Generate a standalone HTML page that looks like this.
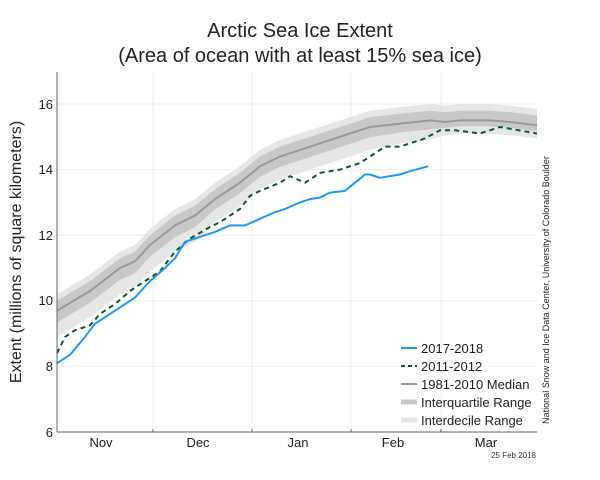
<!DOCTYPE html>
<html><head><meta charset="utf-8"><style>
body{margin:0;background:#fff}
svg{display:block;font-family:"Liberation Sans",sans-serif}
</style></head><body>
<svg id="s" width="600" height="480" viewBox="0 0 600 480">
<rect width="600" height="480" fill="#fff"/>
<text x="300" y="37" font-size="20" text-anchor="middle" fill="#222">Arctic Sea Ice Extent</text>
<text x="300" y="62" font-size="20" text-anchor="middle" fill="#222">(Area of ocean with at least 15% sea ice)</text>
<g stroke="#eeeeee" stroke-width="1">
<line x1="57" x2="537" y1="366.4" y2="366.4"/><line x1="57" x2="537" y1="300.8" y2="300.8"/>
<line x1="57" x2="537" y1="235.2" y2="235.2"/><line x1="57" x2="537" y1="169.6" y2="169.6"/>
<line x1="57" x2="537" y1="104" y2="104"/>
<line x1="153" x2="153" y1="72" y2="432"/><line x1="252" x2="252" y1="72" y2="432"/>
<line x1="351" x2="351" y1="72" y2="432"/><line x1="441" x2="441" y1="72" y2="432"/>
</g>
<g id="g"></g>
<line x1="57" x2="57" y1="72" y2="432" stroke="#666"/>
<line x1="57" x2="537" y1="432" y2="432" stroke="#666"/>
<g stroke="#666"><line x1="153" x2="153" y1="429" y2="432"/><line x1="252" x2="252" y1="429" y2="432"/><line x1="351" x2="351" y1="429" y2="432"/><line x1="441" x2="441" y1="429" y2="432"/></g>
<g font-size="13" fill="#222" text-anchor="end">
<text x="53" y="437">6</text><text x="53" y="371">8</text><text x="53" y="305">10</text>
<text x="53" y="240">12</text><text x="53" y="174">14</text><text x="53" y="109">16</text>
</g>
<g font-size="13" fill="#222" text-anchor="middle">
<text x="101" y="447">Nov</text><text x="198" y="447">Dec</text><text x="298" y="447">Jan</text>
<text x="393" y="447">Feb</text><text x="486" y="447">Mar</text>
</g>
<text transform="translate(21,252) rotate(-90)" font-size="16" text-anchor="middle" fill="#222">Extent (millions of square kilometers)</text>
<text transform="translate(549,290) rotate(-90)" font-size="9" text-anchor="middle" fill="#222">National Snow and Ice Data Center, University of Colorado Boulder</text>
<text x="536" y="458" font-size="8" text-anchor="end" fill="#333">25 Feb 2018</text>
<g font-size="13" fill="#222">
<line x1="401" x2="417" y1="348" y2="348" stroke="#1e9bef" stroke-width="2"/><text x="421" y="353">2017-2018</text>
<line x1="401" x2="417" y1="366" y2="366" stroke="#0b5a2a" stroke-width="2" stroke-dasharray="4,3"/><text x="421" y="371">2011-2012</text>
<line x1="401" x2="417" y1="384" y2="384" stroke="#999" stroke-width="2"/><text x="421" y="389">1981-2010 Median</text>
<line x1="401" x2="417" y1="402" y2="402" stroke="#c8c8c8" stroke-width="5"/><text x="421" y="407">Interquartile Range</text>
<line x1="401" x2="417" y1="420" y2="420" stroke="#e6e6e6" stroke-width="5"/><text x="421" y="425">Interdecile Range</text>
</g>
</svg>
<script>
function Y(v){return 432-(v-6)*32.8;}
var med=[[57,9.7],[90,10.3],[120,11.0],[135,11.2],[150,11.7],[175,12.3],[195,12.6],[215,13.1],[240,13.6],[260,14.1],[280,14.4],[300,14.6],[330,14.9],[350,15.1],[370,15.3],[400,15.4],[430,15.5],[445,15.45],[460,15.5],[490,15.5],[510,15.45],[537,15.35]];
var blue=[[57,8.1],[70,8.35],[85,8.9],[95,9.3],[105,9.5],[120,9.8],[135,10.1],[150,10.6],[165,11.0],[175,11.3],[185,11.8],[195,11.9],[215,12.1],[230,12.3],[245,12.3],[260,12.5],[275,12.7],[285,12.8],[300,13.0],[310,13.1],[320,13.15],[330,13.3],[345,13.35],[355,13.6],[365,13.85],[370,13.85],[380,13.75],[400,13.85],[410,13.95],[428,14.1]];
var grn=[[57,8.4],[65,8.9],[75,9.1],[90,9.25],[100,9.6],[115,9.9],[130,10.3],[145,10.6],[160,10.9],[175,11.5],[190,11.9],[210,12.25],[220,12.4],[240,12.8],[250,13.2],[260,13.35],[280,13.6],[290,13.8],[305,13.6],[320,13.9],[340,14.0],[360,14.2],[370,14.4],[385,14.7],[400,14.7],[425,14.95],[440,15.2],[455,15.2],[480,15.1],[500,15.3],[537,15.1]];
function lo(x){return x<200?0.8:(x<380?0.7:(x<440?0.6:0.4));}
function pl(a){return a.map(function(p){return p[0]+','+Y(p[1]).toFixed(1)}).join(' ');}
function band(u,d){var up=med.map(function(p){return [p[0],p[1]+u(p[0])]});var dn=med.map(function(p){return [p[0],p[1]-d(p[0])]}).reverse();return pl(up)+' '+pl(dn);}
var g=document.getElementById('g');
g.innerHTML='<polygon fill="#e6e6e6" points="'+band(function(){return 0.5},lo)+'"/>'+
'<polygon fill="#c8c8c8" points="'+band(function(){return 0.3},function(x){return lo(x)*0.45})+'"/>'+
'<polyline fill="none" stroke="#999" stroke-width="2" points="'+pl(med)+'"/>'+
'<polyline fill="none" stroke="#0b5a2a" stroke-width="2" stroke-dasharray="5,4" points="'+pl(grn)+'"/>'+
'<polyline fill="none" stroke="#1e9bef" stroke-width="2" points="'+pl(blue)+'"/>';
</script>
</body></html>
